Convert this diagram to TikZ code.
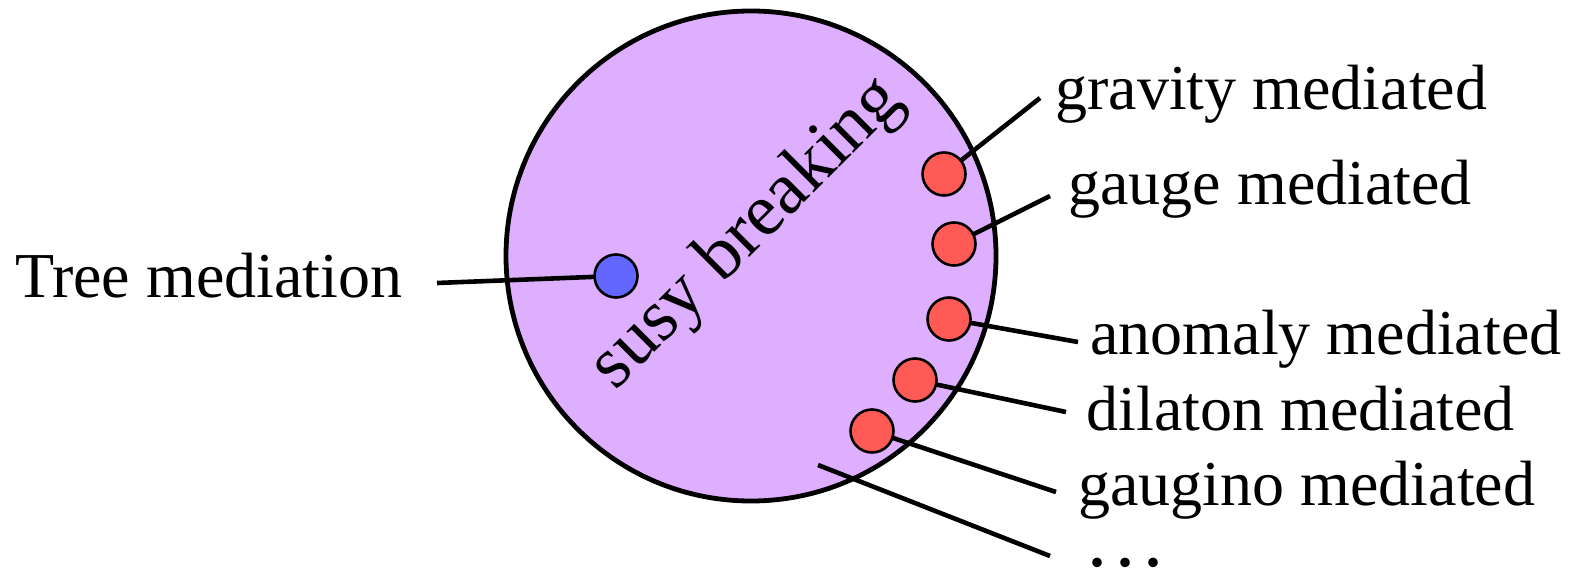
\documentclass[tikz,border=0pt]{standalone}
\usepackage{fontspec}
\setmainfont{Liberation Serif}
\definecolor{bubble}{RGB}{223,175,255}
\definecolor{reddot}{RGB}{255,90,85}
\definecolor{bluedot}{RGB}{99,102,255}
\begin{document}
\begin{tikzpicture}[x=0.5pt,y=-0.5pt,
  bigcirc/.style={circle,draw=black,line width=2.4pt,fill=bubble,minimum size=245pt,inner sep=0pt},
  rdot/.style={circle,draw=black,line width=1.3pt,fill=reddot,minimum size=21.5pt,inner sep=0pt},
  bdot/.style={circle,draw=black,line width=1.3pt,fill=bluedot,minimum size=21.5pt,inner sep=0pt},
  conn/.style={line width=2.3pt},
  lbl/.style={anchor=base west,inner sep=0pt,font=\fontsize{32pt}{36pt}\selectfont}]
\useasboundingbox (0,0) rectangle (1572,571);
\node[bigcirc] (sb) at (751,256) {};
\node[rotate=45,inner sep=0pt,font=\fontsize{37pt}{40pt}\selectfont] (title) at (748,234) {susy breaking};
% labels
\node[lbl] (tree) at (15,298) {Tree mediation};
\node[lbl] (grav) at (1055,110) {gravity mediated};
\node[lbl] (gauge) at (1068,205) {gauge mediated};
\node[lbl] (anom) at (1090,355) {anomaly mediated};
\node[lbl] (dil) at (1086,430) {dilaton mediated};
\node[lbl] (gino) at (1078,505) {gaugino mediated};
\node[lbl,font=\fontsize{40pt}{40pt}\selectfont] (more) at (1087,566) {.\kern0.1em.\kern0.1em.};
% connector ends
\coordinate (ctree) at (437,283);
\coordinate (cgrav) at (1040,98);
\coordinate (cgauge) at (1050,196);
\coordinate (canom) at (1078,342);
\coordinate (cdil) at (1066,412);
\coordinate (cgino) at (1056,492);
\coordinate (cmoreA) at (818,465);
\coordinate (cmoreB) at (1050,556);
% dots positions
\coordinate (pb) at (616,276);
\coordinate (p1) at (944,174);
\coordinate (p2) at (954,244);
\coordinate (p3) at (949,319);
\coordinate (p4) at (915,380);
\coordinate (p5) at (872,431);
% lines
\draw[conn] (pb) -- (ctree);
\draw[conn] (p1) -- (cgrav);
\draw[conn] (p2) -- (cgauge);
\draw[conn] (p3) -- (canom);
\draw[conn] (p4) -- (cdil);
\draw[conn] (p5) -- (cgino);
\draw[conn] (cmoreA) -- (cmoreB);
% dots
\node[bdot] (b) at (pb) {};
\node[rdot] (r1) at (p1) {};
\node[rdot] (r2) at (p2) {};
\node[rdot] (r3) at (p3) {};
\node[rdot] (r4) at (p4) {};
\node[rdot] (r5) at (p5) {};
\end{tikzpicture}
\end{document}
